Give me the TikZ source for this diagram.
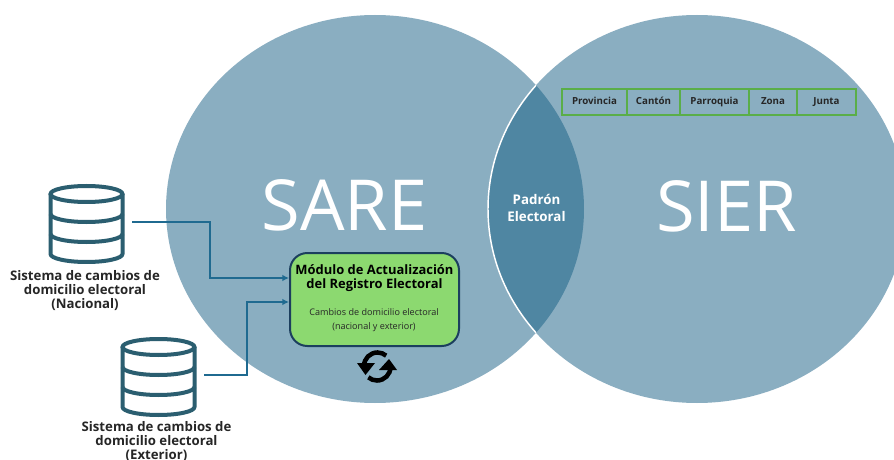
\documentclass[tikz,border=0pt]{standalone}
\usepackage{fontspec}
\setmainfont{Open Sans}
\usetikzlibrary{arrows.meta}
\definecolor{circ}{HTML}{8AAEC1}
\definecolor{lens}{HTML}{4F86A2}
\definecolor{dbc}{HTML}{2B5E70}
\definecolor{conn}{HTML}{1F6A90}
\definecolor{modf}{HTML}{8CD970}
\definecolor{modb}{HTML}{1C3F5E}
\definecolor{cellb}{HTML}{5AAE48}
\tikzset{
  dbline/.style={draw=dbc,line width=3pt,fill=none},
  conline/.style={draw=conn,line width=1.2pt,-{Latex[length=5pt,width=5pt]}},
  dblabel/.style={font=\fontsize{9.9pt}{10.5pt}\selectfont\bfseries,text=black!85,align=center,inner sep=0pt},
  bigtext/.style={font=\fontsize{52.8pt}{56pt}\selectfont,text=white,inner sep=0pt},
  cellbox/.style={draw=cellb,line width=1.5pt,inner sep=0pt,minimum height=19.5pt,text height=5.5pt,text depth=1.5pt,font=\fontsize{7.3pt}{8pt}\selectfont\bfseries,text=black!85},
  pics/database/.style={code={
    \draw[dbline] (0,0) ellipse [x radius=36,y radius=8];
    \draw[dbline,line join=round] (-36,0) -- (-36,60) arc [start angle=180,end angle=0,x radius=36,y radius=8] -- (36,0);
    \draw[dbline] (-36,20) arc [start angle=180,end angle=0,x radius=36,y radius=8];
    \draw[dbline] (-36,40) arc [start angle=180,end angle=0,x radius=36,y radius=8];
  }}
}
\begin{document}
\begin{tikzpicture}[x=0.75pt,y=-0.75pt]
\useasboundingbox (0,0) rectangle (894,460);
\fill[white] (0,0) rectangle (894,460);
% circles
\fill[circ] (375,209) ellipse [x radius=209,y radius=194];
\fill[circ] (697,209) ellipse [x radius=209,y radius=194];
\begin{scope}
  \clip (375,209) ellipse [x radius=209,y radius=194];
  \fill[lens] (697,209) ellipse [x radius=209,y radius=194];
  \draw[white,line width=1.1pt] (697,209) ellipse [x radius=209,y radius=194];
\end{scope}
\node[bigtext] (sare) at (344.5,205) {SARE};
\node[bigtext] (sier) at (726.5,206) {SIER};
\node[font=\fontsize{10pt}{12.75pt}\selectfont\bfseries,text=white,align=center,inner sep=0pt] (padron) at (536.5,208) {Padrón\\Electoral};
% table
\node[cellbox,minimum width=48.75pt] (c1) at (594.5,102) {Provincia};
\node[cellbox,minimum width=39.75pt] (c2) at (653.5,102) {Cantón};
\node[cellbox,minimum width=51.75pt] (c3) at (714.5,102) {Parroquia};
\node[cellbox,minimum width=36pt] (c4) at (773,102) {Zona};
\node[cellbox,minimum width=44.25pt] (c5) at (826.5,102) {Junta};
% module
\node[draw=modb,line width=1.5pt,fill=modf,rounded corners=13pt,minimum width=126.75pt,minimum height=69.75pt,inner sep=0pt] (mod) at (374.5,299.5) {};
\node[font=\fontsize{9.7pt}{10.5pt}\selectfont\bfseries,align=center,inner sep=0pt] (modt) at (374.5,278) {Módulo de Actualización\\del Registro Electoral};
\node[font=\fontsize{6.8pt}{10.5pt}\selectfont,text=black!85,align=center,inner sep=0pt] (mods) at (374,320) {Cambios de domicilio electoral\\(nacional y exterior)};
% sync icon
\draw[black,line width=3.4pt] (364,366) arc [start angle=180,end angle=310,radius=13.5];
\draw[black,line width=3.4pt] (390.5,367) arc [start angle=0,end angle=130,radius=13.5];
\fill[black] (357,363) -- (375,363) -- (365.5,375) -- cycle;
\fill[black] (379,370) -- (397,370) -- (389,359) -- cycle;
% databases
\pic at (86.5,194) {database};
\pic at (158.5,347) {database};
\coordinate (db1) at (132,222);
\coordinate (db2) at (204,375);
\node[dblabel] (l1) at (85,291) {Sistema de cambios de\\domicilio electoral\\(Nacional)};
\node[dblabel] (l2) at (156.5,441.5) {Sistema de cambios de\\domicilio electoral\\(Exterior)};
% connectors
\coordinate (m1) at (mod.west |- 0,278);
\coordinate (m2) at (mod.west |- 0,302);
\draw[conline] (db1) -- (210,222) -- (210,278) -- (m1);
\draw[conline] (db2) -- (247,375) -- (247,302) -- (m2);
\end{tikzpicture}
\end{document}
